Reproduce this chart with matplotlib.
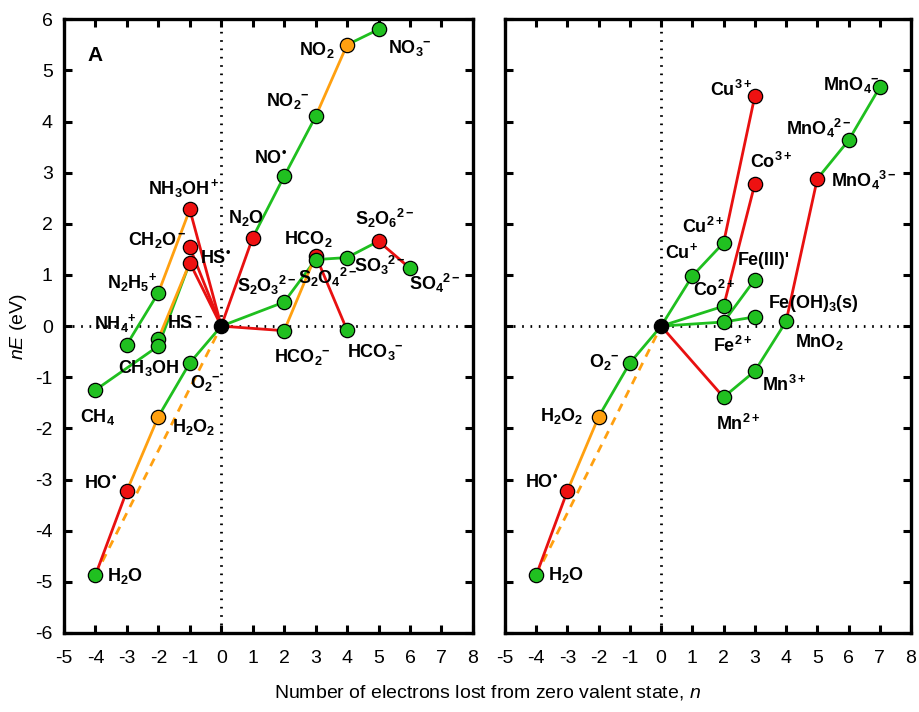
import matplotlib
matplotlib.use("Agg")
import matplotlib.pyplot as plt

plt.rcParams['font.family'] = ['Liberation Sans', 'DejaVu Sans']
plt.rcParams['mathtext.fontset'] = 'custom'
plt.rcParams['mathtext.rm'] = 'Liberation Sans'
plt.rcParams['mathtext.it'] = 'Liberation Sans:italic'
plt.rcParams['mathtext.bf'] = 'Liberation Sans:bold'
plt.rcParams['axes.unicode_minus'] = False

# ---------------- data: left panel (A) ----------------
left_names = ['0', 'H2O', 'HO', 'H2O2', 'O2-', 'CH4', 'NH4+', 'HS-', 'CH3OH', 'N2H5+',
              'NH3OH+', 'CH2O-', 'HS.', 'N2O', 'NO', 'NO2-', 'NO2', 'NO3-',
              'S2O3', 'HCO2-', 'HCO2', 'S2O4', 'SO3', 'HCO3-', 'S2O6', 'SO4']
left_n = [0, -4, -3, -2, -1, -4, -3, -2, -2, -2,
          -1, -1, -1, 1, 2, 3, 4, 5,
          2, 2, 3, 3, 4, 4, 5, 6]
left_E = [0, -4.87, -3.22, -1.77, -0.72, -1.25, -0.36, -0.25, -0.39, 0.65,
          2.28, 1.54, 1.24, 1.73, 2.93, 4.10, 5.50, 5.80,
          0.47, -0.09, 1.38, 1.30, 1.34, -0.08, 1.66, 1.13]
left_kind = ['k', 'g', 'r', 'o', 'g', 'g', 'g', 'g', 'g', 'g',
             'r', 'r', 'r', 'r', 'g', 'g', 'o', 'g',
             'g', 'g', 'r', 'g', 'g', 'g', 'r', 'g']
left_edges = [('H2O', 'HO', 'r'), ('HO', 'H2O2', 'o'), ('H2O2', 'O2-', 'g'), ('O2-', '0', 'g'),
              ('CH4', 'CH3OH', 'g'), ('CH3OH', 'HS.', 'g'), ('HS-', 'HS.', 'o'),
              ('NH4+', 'N2H5+', 'g'), ('N2H5+', 'NH3OH+', 'o'), ('NH3OH+', '0', 'r'),
              ('CH2O-', '0', 'r'), ('HS.', '0', 'r'), ('0', 'N2O', 'r'), ('N2O', 'NO', 'g'),
              ('NO', 'NO2-', 'g'), ('NO2-', 'NO2', 'o'), ('NO2', 'NO3-', 'g'),
              ('0', 'S2O3', 'g'), ('S2O3', 'S2O4', 'g'), ('S2O4', 'SO3', 'g'),
              ('SO3', 'S2O6', 'g'), ('S2O6', 'SO4', 'r'),
              ('0', 'HCO2-', 'r'), ('HCO2-', 'HCO2', 'o'), ('HCO2', 'HCO3-', 'r')]
left_dashed = [('H2O', '0', 'o')]
left_labels = [r'$\mathbf{NO_2}$', r'$\mathbf{NO_3{}^{-}}$', r'$\mathbf{NO_2{}^{-}}$',
               r'$\mathbf{NO^{•}}$', r'$\mathbf{N_2O}$', r'$\mathbf{NH_3OH^+}$',
               r'$\mathbf{CH_2O^-}$', r'$\mathbf{HS^{•}}$', r'$\mathbf{N_2H_5{}^{+}}$',
               r'$\mathbf{NH_4{}^{+}}$', r'$\mathbf{HS^-}$', r'$\mathbf{CH_3OH}$',
               r'$\mathbf{CH_4}$', r'$\mathbf{O_2{}^{-}}$', r'$\mathbf{H_2O_2}$',
               r'$\mathbf{HO^{•}}$', r'$\mathbf{H_2O}$', r'$\mathbf{S_2O_3{}^{2-}}$',
               r'$\mathbf{S_2O_4{}^{2-}}$', r'$\mathbf{HCO_2}$', r'$\mathbf{S_2O_6{}^{2-}}$',
               r'$\mathbf{SO_3{}^{2-}}$', r'$\mathbf{SO_4{}^{2-}}$', r'$\mathbf{HCO_2{}^{-}}$',
               r'$\mathbf{HCO_3{}^{-}}$']
left_label_x = [3.05, 6.00, 2.13, 1.56, 0.79, -1.18, -2.03, -0.19, -2.83, -3.37, -1.14, -2.32,
                -3.94, -0.51, -0.89, -3.85, -3.05, 1.46, 3.37, 2.77, 5.21, 5.05, 6.80, 2.57, 4.90]
left_label_y = [5.40, 5.44, 4.40, 3.27, 2.12, 2.69, 1.68, 1.32, 0.86, 0.06, 0.06, -0.82,
                -1.77, -1.11, -1.97, -3.08, -4.89, 0.80, 0.95, 1.71, 2.10, 1.19, 0.84, -0.60, -0.51]

# ---------------- data: right panel ----------------
right_names = ['0', 'H2O', 'HO', 'H2O2', 'O2-', 'Cu+', 'Cu2+', 'Cu3+', 'Co2+', 'Co3+',
               'Fe2+', 'FeIII', 'FeOH3', 'Mn2+', 'Mn3+', 'MnO2', 'MnO4_3', 'MnO4_2', 'MnO4_1']
right_n = [0, -4, -3, -2, -1, 1, 2, 3, 2, 3,
           2, 3, 3, 2, 3, 4, 5, 6, 7]
right_E = [0, -4.87, -3.22, -1.77, -0.72, 0.98, 1.63, 4.50, 0.39, 2.78,
           0.08, 0.91, 0.18, -1.39, -0.88, 0.09, 2.88, 3.63, 4.67]
right_kind = ['k', 'g', 'r', 'o', 'g', 'g', 'g', 'r', 'g', 'r',
              'g', 'g', 'g', 'g', 'g', 'g', 'r', 'g', 'g']
right_edges = [('H2O', 'HO', 'r'), ('HO', 'H2O2', 'o'), ('H2O2', 'O2-', 'g'), ('O2-', '0', 'g'),
               ('0', 'Cu+', 'g'), ('Cu+', 'Cu2+', 'g'), ('Cu2+', 'Cu3+', 'r'),
               ('0', 'Co2+', 'g'), ('Co2+', 'Co3+', 'r'),
               ('0', 'Fe2+', 'g'), ('Fe2+', 'FeIII', 'g'), ('Fe2+', 'FeOH3', 'g'),
               ('0', 'Mn2+', 'r'), ('Mn2+', 'Mn3+', 'g'), ('Mn3+', 'MnO2', 'g'),
               ('MnO2', 'MnO4_3', 'r'), ('MnO4_3', 'MnO4_2', 'g'), ('MnO4_2', 'MnO4_1', 'g')]
right_dashed = [('H2O', '0', 'o')]
right_labels = [r'$\mathbf{Cu^{3+}}$', r'$\mathbf{MnO_4{}^{-}}$', r'$\mathbf{MnO_4{}^{2-}}$',
                r'$\mathbf{Co^{3+}}$', r'$\mathbf{MnO_4{}^{3-}}$', r'$\mathbf{Cu^{2+}}$',
                r'$\mathbf{Cu^{+}}$', "Fe(III)'", r'$\mathbf{Co^{2+}}$',
                r'$\mathbf{Fe(OH)_3(s)}$', r'$\mathbf{Fe^{2+}}$', r'$\mathbf{MnO_2}$',
                r'$\mathbf{O_2{}^{-}}$', r'$\mathbf{Mn^{3+}}$', r'$\mathbf{H_2O_2}$',
                r'$\mathbf{Mn^{2+}}$', r'$\mathbf{HO^{•}}$', r'$\mathbf{H_2O}$']
right_label_x = [2.24, 6.08, 5.06, 3.52, 6.50, 1.34, 0.64, 3.30, 1.70, 4.86, 2.30, 5.06,
                 -1.82, 3.94, -3.20, 2.46, -3.84, -3.04]
right_label_y = [4.62, 4.71, 3.86, 3.20, 2.84, 1.93, 1.44, 1.29, 0.70, 0.45, -0.39, -0.31,
                 -0.70, -1.15, -1.75, -1.91, -3.06, -4.87]

x_ticks = list(range(-5, 9))
y_ticks = list(range(-6, 7))

COL = {'g': '#20c020', 'r': '#ee1111', 'o': '#ffa010', 'k': '#000000'}
LCOL = {'g': '#1fbf1f', 'r': '#e81010', 'o': '#ffa010'}

fig = plt.figure(figsize=(9.19, 7.12), dpi=100)
axL = fig.add_axes([0.0696, 0.111, 0.445, 0.862])
axR = fig.add_axes([0.5495, 0.111, 0.4418, 0.862])


def draw(ax, names, ns, Es, kinds, edges, dashed, labels, lx, ly):
    idx = {nm: i for i, nm in enumerate(names)}
    ax.axhline(0, color='black', lw=2.0, ls=(0, (0.6, 2.4)), zorder=1)
    ax.axvline(0, color='black', lw=2.0, ls=(0, (0.6, 2.4)), zorder=1)
    for a, b, c in dashed:
        ax.plot([ns[idx[a]], ns[idx[b]]], [Es[idx[a]], Es[idx[b]]], color=LCOL[c],
                lw=2.0, ls=(0, (3, 2.5)), zorder=2)
    for a, b, c in edges:
        ax.plot([ns[idx[a]], ns[idx[b]]], [Es[idx[a]], Es[idx[b]]], color=LCOL[c],
                lw=2.0, zorder=3, solid_capstyle='round')
    for i in range(len(names)):
        ax.plot(ns[i], Es[i], 'o', ms=10.3, mfc=COL[kinds[i]], mec='black', mew=0.9, zorder=4)
    for t, x, y in zip(labels, lx, ly):
        ax.text(x, y, t, ha='center', va='center', fontsize=13, fontweight='bold', zorder=5)
    ax.set_xlim(-5, 8)
    ax.set_ylim(-6, 6)
    ax.set_xticks(x_ticks)
    ax.set_yticks(y_ticks)
    ax.tick_params(direction='in', top=True, right=True, length=6, width=2.2,
                   labelsize=14)
    ax.tick_params(axis='x', pad=12)
    ax.tick_params(axis='y', pad=8)
    for s in ax.spines.values():
        s.set_linewidth(2.4)


draw(axL, left_names, left_n, left_E, left_kind, left_edges, left_dashed,
     left_labels, left_label_x, left_label_y)
draw(axR, right_names, right_n, right_E, right_kind, right_edges, right_dashed,
     right_labels, right_label_x, right_label_y)
axR.set_yticklabels([])
axL.text(-4.0, 5.3, 'A', ha='center', va='center', fontsize=15, fontweight='bold')

fig.text(0.0196, 0.542, r'$nE$ (eV)', rotation=90, ha='center', va='center', fontsize=14)
fig.text(0.53, 0.027, r'Number of electrons lost from zero valent state, $n$',
         ha='center', va='center', fontsize=14)

fig.savefig('out.png', dpi=100)
